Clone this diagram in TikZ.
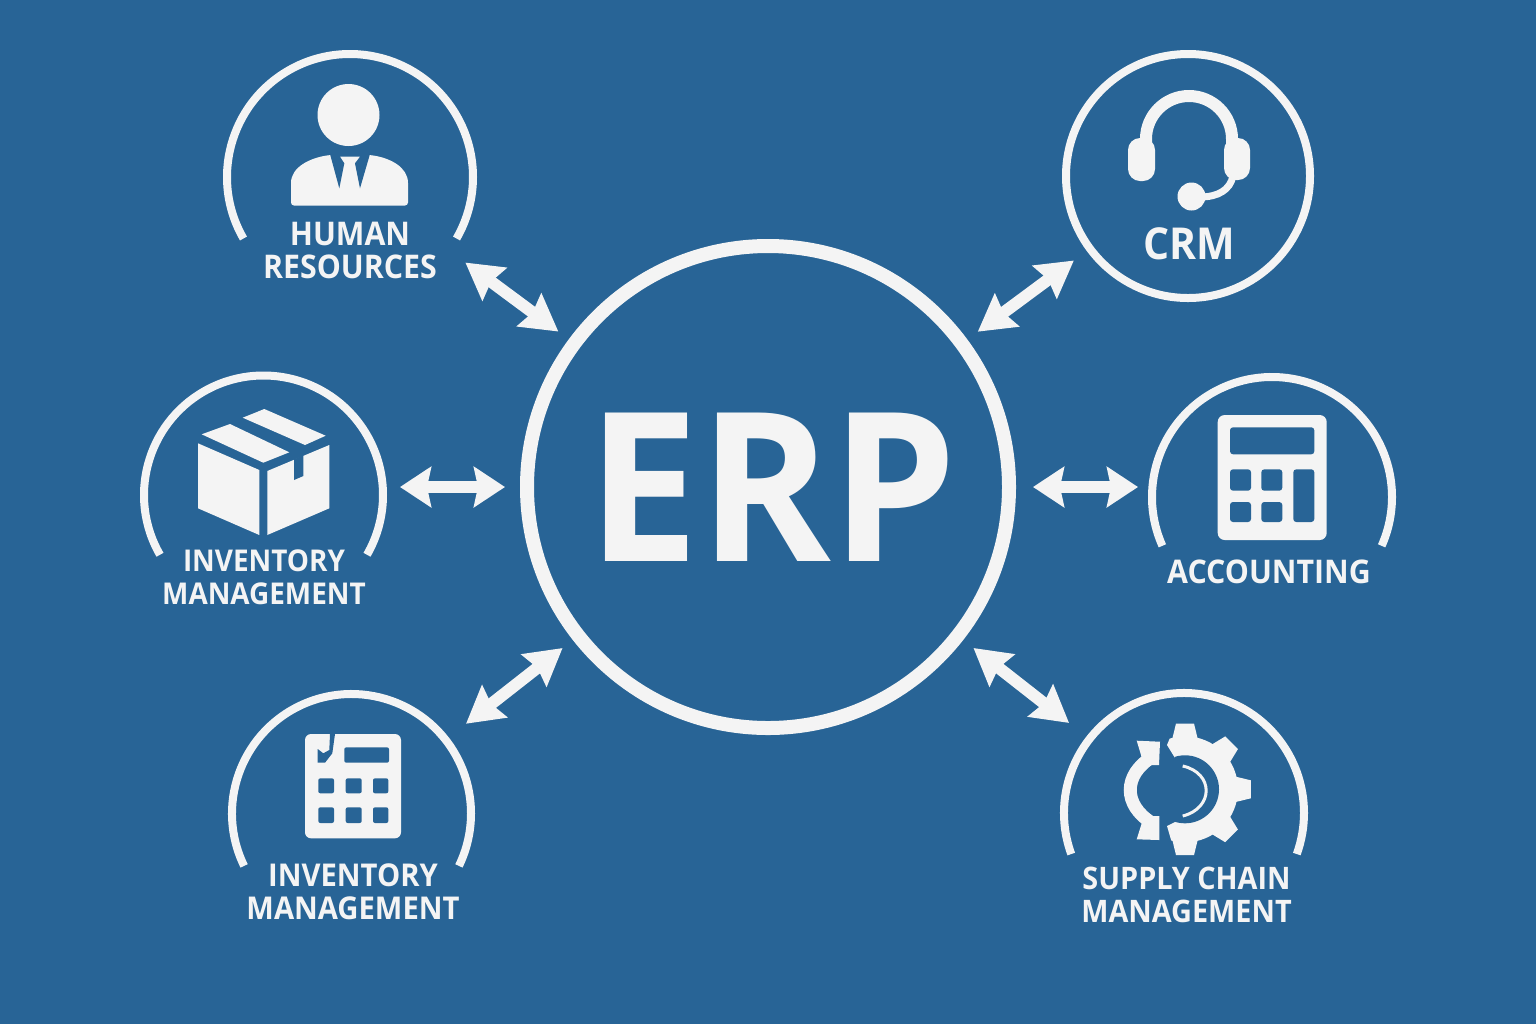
\documentclass[tikz,border=0pt]{standalone}
\usepackage{fontspec}
\usetikzlibrary{arrows.meta}
\newfontfamily\labelfont{Open Sans}[FakeStretch=0.93]
\newfontfamily\erpfont{Open Sans}
\definecolor{erpblue}{HTML}{286496}
\definecolor{erpwhite}{HTML}{F4F4F4}
\tikzset{
  hub/.style={circle,draw=erpwhite,line width=7pt,inner sep=0pt,minimum size=241pt},
  fullring/.style={circle,draw=erpwhite,line width=4pt,inner sep=0pt,minimum size=#1},
  openring/.style={circle,inner sep=0pt,outer sep=0pt,minimum size=#1},
  ringarc/.style={draw=erpwhite,line width=4pt},
  biarrow/.style={draw=erpwhite,line width=6pt,{Stealth[length=#1,width=20pt,inset=2pt]}-{Stealth[length=#1,width=20pt,inset=2pt]}},
  label/.style={text=erpwhite,align=center,inner sep=0pt,font=\labelfont\bfseries\fontsize{#1}{16.5}\selectfont},
  iconfill/.style={fill=erpwhite},
  holefill/.style={fill=erpblue}
}
\begin{document}
\begin{tikzpicture}[x=0.5pt,y=-0.5pt]

    \fill[erpblue] (0,0) rectangle (1536,1024);

  \node[hub] (erp) at (768,487) {};
  \node[text=erpwhite,inner sep=0pt,font=\erpfont\bfseries\fontsize{104}{104}\selectfont] (erptext) at (772.5,487) {\scalebox{0.96}[1]{ERP}};

  \node[openring=123pt] (hr) at (350,177) {};
    \draw[ringarc] (hr.210) arc[start angle=150,end angle=390,radius=123];
  \node[label=16.3] (hrtext) at (350,250) {HUMAN\\RESOURCES};
    \fill[iconfill] (348.5,115) circle[radius=31];
    \fill[iconfill,rounded corners=1.5pt] (291,205.5) -- (291,186) .. controls (291,167) and (310,158) .. (330,155) -- (370,155) .. controls (390,158) and (408,167) .. (408,186) -- (408,205.5) -- cycle;
    \fill[holefill] (330,154) -- (339.3,188.3) -- (344.3,163.3) -- (340,156.7) -- (360,156.7) -- (355,163.3) -- (360,188.3) -- (370,154) -- cycle;

  \node[fullring=122pt] (crm) at (1188,176) {};
  \node[label=22] (crmtext) at (1189.5,244) {CRM};
    \draw[erpwhite,line width=6pt] (1146,145) -- (1146,139) arc[start angle=180,end angle=360,radius=43] -- (1232,145);
    \fill[iconfill,rounded corners=6pt] (1128,138) rectangle (1155,181);
    \fill[iconfill,rounded corners=6pt] (1224,138) rectangle (1250,180);
    \draw[erpwhite,line width=3.5pt] (1233,176) .. controls (1230,190) and (1218,197) .. (1200,197);
    \fill[iconfill] (1191.5,196.5) circle[radius=14];

  \node[openring=119.5pt] (inv) at (263.5,495) {};
    \draw[ringarc] (inv.210) arc[start angle=150,end angle=390,radius=119.5];
  \node[label=15] (invtext) at (264,577) {INVENTORY\\MANAGEMENT};
    \fill[iconfill] (201.7,434.3) -- (230,424) -- (289.3,452.3) -- (263.3,462.7) -- cycle;
    \fill[iconfill] (242.7,417.7) -- (264.3,409) -- (325.7,435.7) -- (305,445) -- cycle;
    \fill[iconfill] (198,443.3) -- (259.3,470) -- (259.3,535) -- (198,508.3) -- cycle;
    \fill[iconfill] (267.3,471) -- (329.3,445) -- (329.3,508.3) -- (267.3,535) -- cycle;
    \fill[holefill] (294,459.3) -- (294,480) -- (303.3,476) -- (303.3,455) -- cycle;

  \node[openring=120pt] (acc) at (1272,497) {};
    \draw[ringarc] (acc.204) arc[start angle=156,end angle=384,radius=120];
  \node[label=16.3] (acctext) at (1269,571.5) {ACCOUNTING};
    \fill[iconfill,rounded corners=3.5pt] (1217.7,415) rectangle (1326.7,540);
    \fill[holefill,rounded corners=1.5pt] (1230,427.3) rectangle (1314.3,454.3);
    \fill[holefill,rounded corners=1.5pt] (1230,469.3) rectangle (1251,490.7);
    \fill[holefill,rounded corners=1.5pt] (1261.3,469.3) rectangle (1282.3,490.7);
    \fill[holefill,rounded corners=1.5pt] (1230,502) rectangle (1251,522);
    \fill[holefill,rounded corners=1.5pt] (1261.3,502) rectangle (1282.3,522);
    \fill[holefill,rounded corners=1.5pt] (1293.3,469.3) rectangle (1314.3,522);

  \node[openring=119.5pt] (stock) at (351.5,813.5) {};
    \draw[ringarc] (stock.206) arc[start angle=154,end angle=386,radius=119.5];
  \node[label=15.7] (stocktext) at (353,892) {INVENTORY\\MANAGEMENT};
    \fill[iconfill,rounded corners=3pt] (305,734) rectangle (401,838.3);
    \fill[holefill] (335,734) -- (332.3,753.3) -- (325,762.7) -- (317.7,762.7) -- (317.7,749) -- (323.3,753.3) -- (329.3,750) -- (330,734) -- cycle;
    \fill[holefill,rounded corners=1pt] (344.3,747.3) rectangle (389,762.7);
    \fill[holefill,rounded corners=1pt] (318.3,778.3) rectangle (334,793.3);
    \fill[holefill,rounded corners=1pt] (345.7,778.3) rectangle (361.7,793.3);
    \fill[holefill,rounded corners=1pt] (373,778.3) rectangle (388.3,793.3);
    \fill[holefill,rounded corners=1pt] (318.3,807.3) rectangle (334,823);
    \fill[holefill,rounded corners=1pt] (345.7,807.3) rectangle (361.7,823);
    \fill[holefill,rounded corners=1pt] (373,807.3) rectangle (388.3,823);

  \node[openring=120pt] (chain) at (1184,813) {};
    \draw[ringarc] (chain.200) arc[start angle=160,end angle=380,radius=120];
  \node[label=15.5] (chaintext) at (1186.5,895) {SUPPLY CHAIN\\MANAGEMENT};
    \begin{scope}
      \clip (1174,700) -- (1174,728) -- (1167,745) -- (1175,758) -- (1175,822) -- (1167,826) -- (1174,850) -- (1174,880) -- (1270,880) -- (1270,700) -- cycle;
      \fill[iconfill] (1185,789.3) circle[radius=53];
      \fill[iconfill] (1172,740) -- (1176,723.5) -- (1194,723.5) -- (1198,740) -- cycle;
      \fill[iconfill,rotate around={-45:(1185,789.3)}] (1172,740) -- (1176,723.5) -- (1194,723.5) -- (1198,740) -- cycle;
      \fill[iconfill,rotate around={-90:(1185,789.3)}] (1172,740) -- (1176,723.5) -- (1194,723.5) -- (1198,740) -- cycle;
      \fill[iconfill,rotate around={-135:(1185,789.3)}] (1172,740) -- (1176,723.5) -- (1194,723.5) -- (1198,740) -- cycle;
      \fill[iconfill,rotate around={-180:(1185,789.3)}] (1172,740) -- (1176,723.5) -- (1194,723.5) -- (1198,740) -- cycle;
      \fill[holefill] (1185,789.3) circle[radius=34];
    \end{scope}
    \draw[erpwhite,line width=1.5pt] (1182.7,766) .. controls (1214,773) and (1214,808) .. (1182.7,816);
    \draw[erpwhite,line width=6.5pt] (1152,757) .. controls (1123,775) and (1123,805) .. (1152,823);
    \fill[iconfill] (1136.7,740.7) -- (1160,741.7) -- (1159,765) -- (1144,765) -- cycle;
    \fill[iconfill] (1136.7,839.3) -- (1159.3,840) -- (1159.3,816) -- (1144,816) -- cycle;

    \draw[biarrow=18pt,shorten <=10.3pt,shorten >=6.5pt] (hr) -- (erp);
    \draw[biarrow=18pt,shorten <=6.5pt,shorten >=8pt] (erp) -- (crm);
    \draw[biarrow=15.5pt,shorten <=8.5pt,shorten >=7.5pt] (inv.east |- erp.west) -- (erp.west);
    \draw[biarrow=15.5pt,shorten <=8.5pt,shorten >=7pt] (erp.east) -- (acc.west |- erp.east);
    \draw[biarrow=18pt,shorten <=13pt,shorten >=6.5pt] (stock) -- (erp);
    \draw[biarrow=18pt,shorten <=6.5pt,shorten >=13pt] (erp) -- (chain);

\end{tikzpicture}
\end{document}
